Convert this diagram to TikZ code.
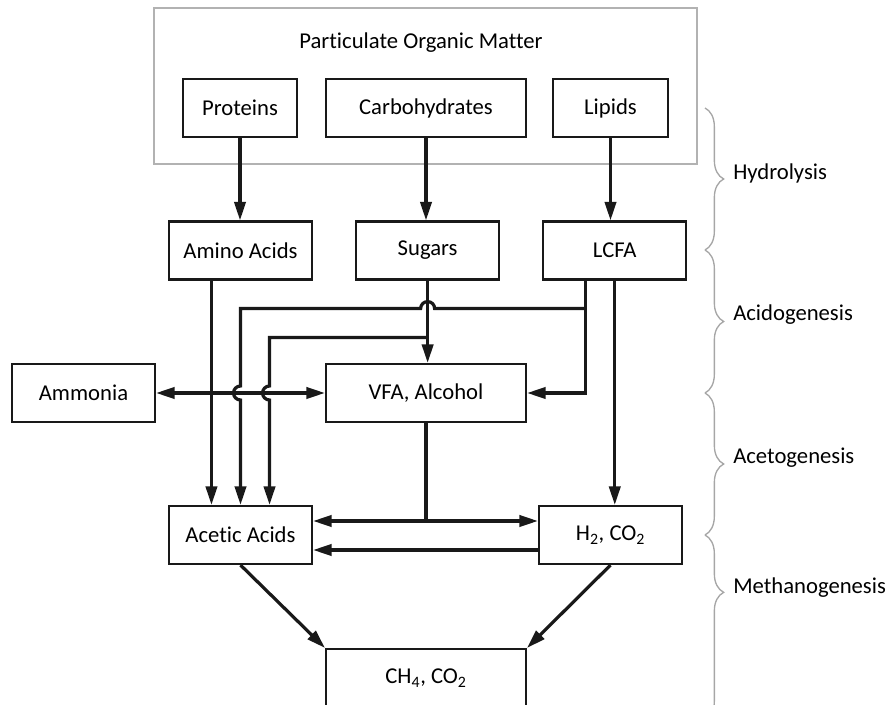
\documentclass[tikz,border=0pt]{standalone}
\usepackage{fontspec}
\setmainfont{Carlito}[Ligatures=NoCommon]
\usetikzlibrary{calc,positioning,arrows.meta,decorations.pathreplacing}

\begin{document}
\begin{tikzpicture}[x=0.75pt,y=-0.75pt,font=\fontsize{17}{20}\selectfont]

\tikzset{stagebox/.style={draw=black!90,line width=1.6pt,inner sep=0pt,minimum height=43.5pt,minimum width=107.25pt},
widebox/.style={stagebox,minimum width=150pt},
flow/.style={line width=2.4pt,color=black!90},
arr/.style={flow,-{Triangle[length=14pt,width=8.5pt]}},
phase/.style={draw=black!35,line width=1pt,decorate,decoration={brace,amplitude=14pt}},
phaselabel/.style={anchor=west,inner sep=0pt}}

\useasboundingbox (0,0) rectangle (889,705);

% Particulate organic matter
\node[draw=black!30,line width=1.5pt,minimum width=407.25pt,minimum height=117pt] (pom) at (425.5,86) {};
\node (pomLabel) at (421,43) {Particulate Organic Matter};
\node[stagebox,minimum width=85.5pt] (proteins) at (240,108) {Proteins};
\node[widebox] (carbs) at (426,108) {Carbohydrates};
\node[stagebox,minimum width=86.25pt] (lipids) at (610.5,108) {Lipids};

% Hydrolysis products
\node[stagebox] (amino) at (240.5,250.5) {Amino Acids};
\node[stagebox,right=31.5pt of amino] (sugars) {Sugars};
\node[stagebox,right=31.5pt of sugars] (lcfa) {LCFA};

% Acidogenesis products
\node[stagebox] (ammonia) at (83.5,393) {Ammonia};
\node[widebox] (vfa) at (426,393) {VFA, Alcohol};

% Acetogenesis and methanogenesis products
\node[stagebox] (acetic) at (240.5,535) {Acetic Acids};
\node[stagebox] (h2) at (610.5,535) {H\textsubscript{2}, CO\textsubscript{2}};
\node[widebox] (ch4) at (426,678) {CH\textsubscript{4}, CO\textsubscript{2}};

% Branch points
\coordinate (aa1) at ($(amino.south west)!0.3!(amino.south east)$);
\coordinate (lc1) at ($(lcfa.south west)!0.3!(lcfa.south east)$);
\coordinate (ac3) at ($(acetic.north west)!0.7!(acetic.north east)$);
\coordinate (lcfaKnee) at ($(lc1)+(0,28)$);
\coordinate (sugarsKnee) at ($(sugars.south)+(0,57)$);
\coordinate (split) at (aa1 |- vfa.west);
\coordinate (vfaFoot) at ($(vfa.south |- acetic.east)+(0,-14)$);

% Edges
\draw[arr] (proteins.south) -- (proteins.south |- amino.north); \draw[arr] (carbs.south) -- (carbs.south |- sugars.north); \draw[arr] (lipids.south) -- (lipids.south |- lcfa.north); % hydrolysis
\draw[arr] (aa1) -- (aa1 |- acetic.north); \draw[arr] (split) -- (ammonia.east); \draw[arr] (split) -- (vfa.west); % amino acids
\draw[arr] (sugars.south) -- (sugars.south |- vfa.north); \draw[arr] (lc1) -- (lc1 |- vfa.east) -- (vfa.east); \draw[arr] (lcfa.south) -- (lcfa.south |- h2.north); % sugars, lcfa
\draw[arr] (lcfaKnee) -- ($(sugars.south |- lcfaKnee)+(7,0)$) arc[start angle=0,end angle=-180,radius=7] -- (acetic.north |- lcfaKnee) -- ($(acetic.north |- split)+(0,-7)$) arc[start angle=-90,end angle=-270,radius=7] -- (acetic.north);
\draw[arr] (sugarsKnee) -- (ac3 |- sugarsKnee) -- ($(ac3 |- split)+(0,-7)$) arc[start angle=-90,end angle=-270,radius=7] -- (ac3);
\draw[flow] (vfa.south) -- (vfaFoot); \draw[arr] (vfaFoot) -- (acetic.east |- vfaFoot); \draw[arr] (vfaFoot) -- (h2.west |- vfaFoot); % vfa
\draw[arr] ($(h2.west)+(0,15)$) -- ($(acetic.east)+(0,15)$);
\draw[arr] (acetic.south) -- (ch4.north west); \draw[arr] (h2.south) -- (ch4.north east); % methanogenesis

% Phases
\draw[phase] (705,108) -- (705,250);
\draw[phase] (705,250) -- (705,393);
\draw[phase] (705,393) -- (705,535);
\draw[phase,decoration={brace,amplitude=14pt,aspect=0.31}] (705,535) -- (705,720);
\node[phaselabel] (hydro) at (733,173) {Hydrolysis};
\node[phaselabel] (acido) at (733,315) {Acidogenesis};
\node[phaselabel] (aceto) at (733,458) {Acetogenesis};
\node[phaselabel] (methano) at (733,588) {Methanogenesis};

\end{tikzpicture}
\end{document}
